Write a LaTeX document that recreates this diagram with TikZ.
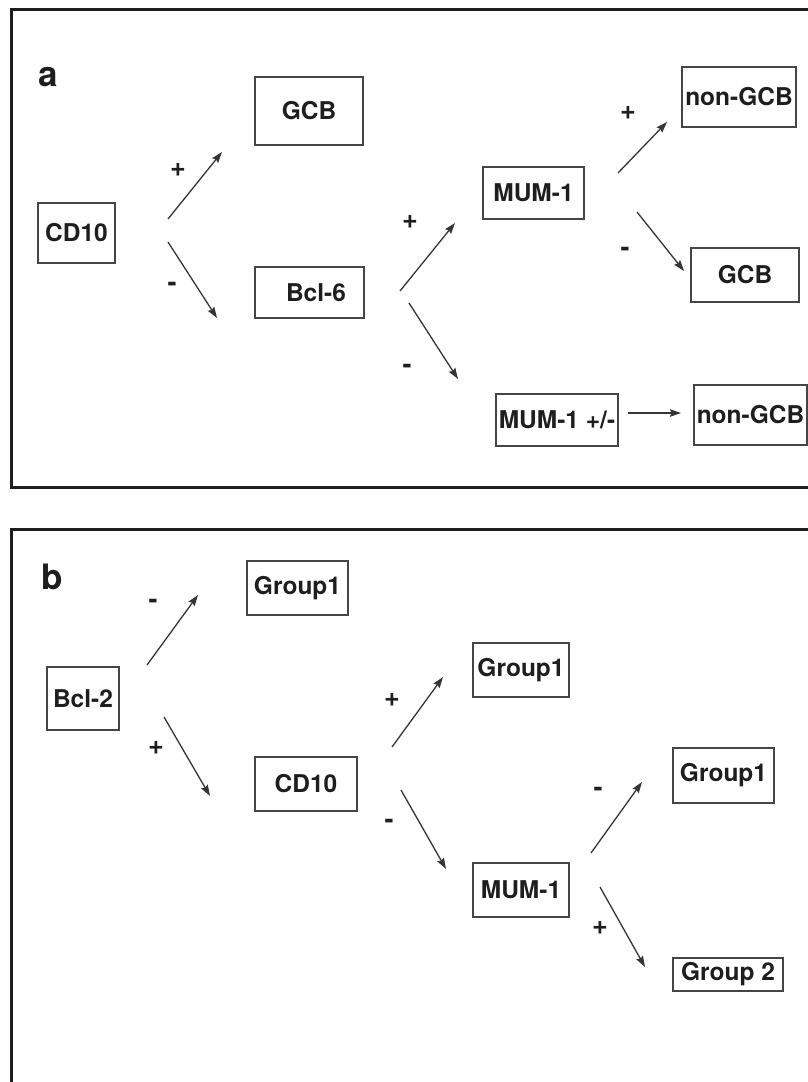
\documentclass[tikz,border=0pt]{standalone}
\usepackage{fontspec}
\setmainfont{TeX Gyre Heros}
\usetikzlibrary{arrows.meta}
\definecolor{ink}{HTML}{1E1E1E}
\definecolor{boxc}{HTML}{454545}
\tikzset{
  box/.style={draw=boxc, line width=1.8pt, inner sep=0pt, font=\fontsize{24.5}{27}\selectfont\bfseries, text=ink},
  conn/.style={draw=ink!90, line width=1.3pt, -{Stealth[length=11pt,width=7.5pt,inset=1.5pt]}},
  sign/.style={font=\fontsize{27}{29}\selectfont\bfseries, text=ink, inner sep=0pt},
  panel/.style={font=\fontsize{35}{37}\selectfont\bfseries, text=ink, inner sep=0pt},
  frame/.style={draw=ink, line width=3pt}
}
\begin{document}
\begin{tikzpicture}[x=1pt,y=-1pt]
\useasboundingbox (0,0) rectangle (808,1082);
% frames
\draw[frame] (808,9) -- (11,9) -- (11,487) -- (808,487);
\draw[frame] (808,529) -- (11,529) -- (11,1082);

% ---------- panel a ----------
\node[panel] (la) at (48,77) {a};
\node[box, minimum width=77pt, minimum height=60pt] (cd10) at (76.5,233) {CD10};
\node[box, minimum width=108pt, minimum height=68pt] (gcb1) at (309,111) {GCB};
\node[box, minimum width=109pt, minimum height=51pt] (bcl6) at (309.5,292.5) {\hspace{13pt}Bcl-6};
\node[box, minimum width=101pt, minimum height=52pt] (mum1) at (533.5,193) {MUM-1};
\node[box, minimum width=114pt, minimum height=60pt] (ngcb1) at (739,97) {non-GCB};
\node[box, minimum width=108pt, minimum height=54pt] (gcb2) at (745,275) {GCB};
\node[box, minimum width=122pt, minimum height=52pt] (mumpm) at (557,420) {MUM-1 +/-};
\node[box, minimum width=113pt, minimum height=60pt] (ngcb2) at (750.5,415) {non-GCB};

\coordinate (a1s) at (168,219); \coordinate (a1e) at (222,152);
\coordinate (a2s) at (168,242); \coordinate (a2e) at (217,318);
\coordinate (a3s) at (400,291); \coordinate (a3e) at (455,223);
\coordinate (a4s) at (409,303); \coordinate (a4e) at (458,379);
\coordinate (a5s) at (618,173); \coordinate (a5e) at (667,122);
\coordinate (a6s) at (637,212); \coordinate (a6e) at (684,271);
\coordinate (a7s) at (628,413); \coordinate (a7e) at (681,413);
\draw[conn] (a1s) -- (a1e);
\draw[conn] (a2s) -- (a2e);
\draw[conn] (a3s) -- (a3e);
\draw[conn] (a4s) -- (a4e);
\draw[conn] (a5s) -- (a5e);
\draw[conn] (a6s) -- (a6e);
\draw[conn] (a7s) -- (a7e);

\node[sign] (sa1) at (178,170) {+};
\node[sign] (sa2) at (172,287) {-};
\node[sign] (sa3) at (410,222) {+};
\node[sign] (sa4) at (407,369) {-};
\node[sign] (sa5) at (628,113) {+};
\node[sign] (sa6) at (625,252) {-};

% ---------- panel b ----------
\node[panel] (lb) at (52,577) {b};
\node[box, minimum width=72pt, minimum height=63pt] (bcl2) at (83,698.5) {Bcl-2};
\node[box, minimum width=101pt, minimum height=54pt] (g1a) at (297.5,588) {Group1};
\node[box, minimum width=102pt, minimum height=54pt] (cd10b) at (306,784) {CD10};
\node[box, minimum width=96pt, minimum height=54pt] (g1b) at (521,670) {Group1};
\node[box, minimum width=96pt, minimum height=54pt] (mum1b) at (521,890) {MUM-1};
\node[box, minimum width=101pt, minimum height=55pt] (g1c) at (723.5,775.5) {Group1};
\node[box, minimum width=110pt, minimum height=33pt] (g2) at (728,974.5) {Group 2};

\coordinate (b1s) at (147,665); \coordinate (b1e) at (198,595);
\coordinate (b2s) at (164,717); \coordinate (b2e) at (210,796);
\coordinate (b3s) at (392,747); \coordinate (b3e) at (443,677);
\coordinate (b4s) at (401,790); \coordinate (b4e) at (446,869);
\coordinate (b5s) at (591,853); \coordinate (b5e) at (642,782);
\coordinate (b6s) at (600,887); \coordinate (b6e) at (645,967);
\draw[conn] (b1s) -- (b1e);
\draw[conn] (b2s) -- (b2e);
\draw[conn] (b3s) -- (b3e);
\draw[conn] (b4s) -- (b4e);
\draw[conn] (b5s) -- (b5e);
\draw[conn] (b6s) -- (b6e);

\node[sign] (sb1) at (153,604) {-};
\node[sign] (sb2) at (156,748) {+};
\node[sign] (sb3) at (392,700) {+};
\node[sign] (sb4) at (389,824) {-};
\node[sign] (sb5) at (598,792) {-};
\node[sign] (sb6) at (600,928) {+};
\end{tikzpicture}
\end{document}
